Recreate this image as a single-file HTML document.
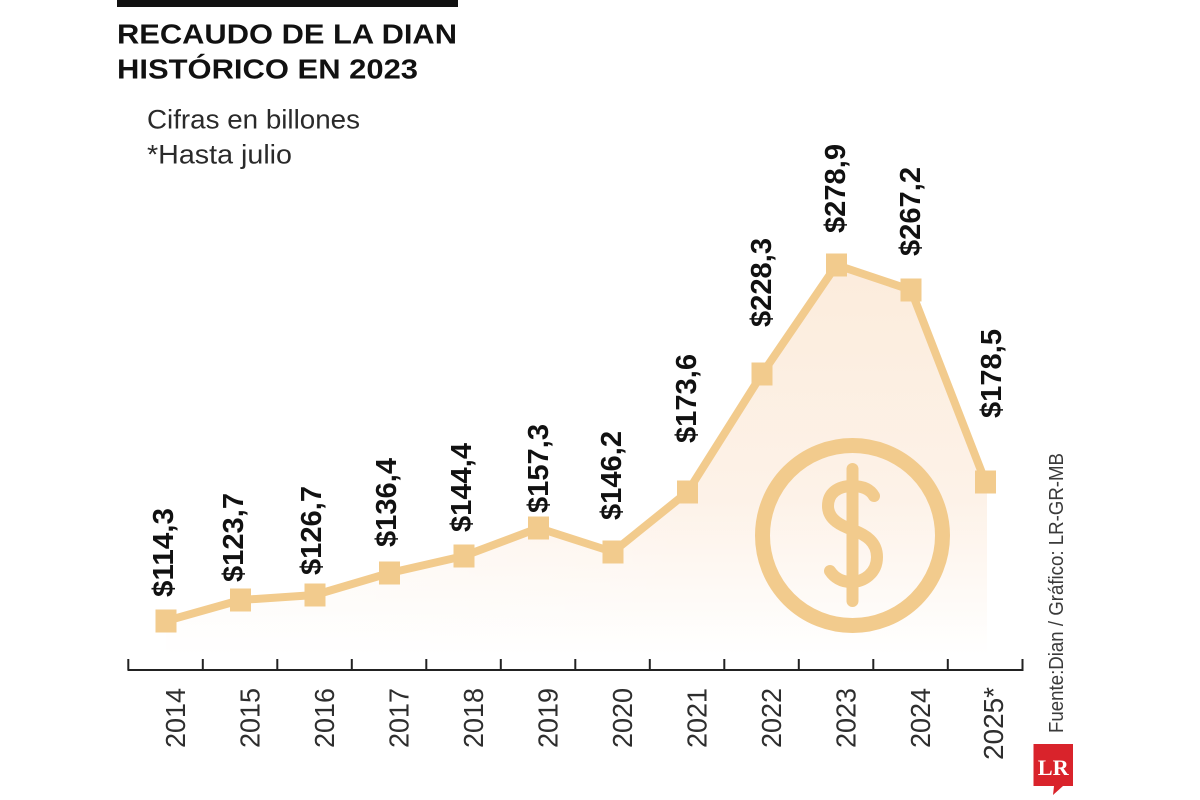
<!DOCTYPE html>
<html>
<head>
<meta charset="utf-8">
<style>
  html,body{margin:0;padding:0;background:#fff;}
  svg{display:block;}
</style>
</head>
<body>
<svg width="1200" height="800" viewBox="0 0 1200 800" xmlns="http://www.w3.org/2000/svg">
  <defs>
    <linearGradient id="fillg" x1="0" y1="265" x2="0" y2="655" gradientUnits="userSpaceOnUse">
      <stop offset="0" stop-color="#FCECDC"/>
      <stop offset="0.6" stop-color="#FDF2E8"/>
      <stop offset="1" stop-color="#FFFFFF"/>
    </linearGradient>
    <linearGradient id="fillh" x1="160" y1="0" x2="700" y2="0" gradientUnits="userSpaceOnUse">
      <stop offset="0" stop-color="#FFFFFF" stop-opacity="0.5"/>
      <stop offset="1" stop-color="#FFFFFF" stop-opacity="0"/>
    </linearGradient>
  </defs>
  <rect width="1200" height="800" fill="#fff"/>

  <!-- Title -->
  <rect x="117" y="0" width="341" height="7" fill="#111"/>
  <text x="117" y="43.5" font-family="Liberation Sans, sans-serif" font-weight="bold" font-size="28" fill="#111" textLength="340" lengthAdjust="spacingAndGlyphs">RECAUDO DE LA DIAN</text>
  <text x="117" y="78.5" font-family="Liberation Sans, sans-serif" font-weight="bold" font-size="28" fill="#111" textLength="301" lengthAdjust="spacingAndGlyphs">HISTÓRICO EN 2023</text>
  <text x="147" y="128.3" font-family="Liberation Sans, sans-serif" font-size="26.5" fill="#2a2a2a" textLength="213" lengthAdjust="spacingAndGlyphs">Cifras en billones</text>
  <text x="147" y="163.3" font-family="Liberation Sans, sans-serif" font-size="26.5" fill="#2a2a2a" textLength="145" lengthAdjust="spacingAndGlyphs">*Hasta julio</text>

  <!-- Area fill -->
  <polygon points="166,621 240.5,600 315,595 389.5,573 464,556 538.5,528 613,552 687.5,492 762,374 836.5,265 911,290 985.5,482 987,482 987,660 166,660" fill="url(#fillg)"/>
  <polygon points="166,621 240.5,600 315,595 389.5,573 464,556 538.5,528 613,552 687.5,492 687.5,660 166,660" fill="url(#fillh)"/>

  <!-- Dollar icon -->
  <circle cx="852.5" cy="535.5" r="90" fill="none" stroke="#F2CB8D" stroke-width="15"/>
  <line x1="852.5" y1="469" x2="852.5" y2="601" stroke="#F2CB8D" stroke-width="12" stroke-linecap="round"/>
  <path d="M 874 496 C 870 489 862 486 852 486 C 838 486 828 493 828 506 C 828 520 842 526 853 530 C 866 535 877 542 877 557 C 877 573 864 582 851 582 C 841 582 834 577 830 571" fill="none" stroke="#F2CB8D" stroke-width="12" stroke-linecap="round"/>

  <!-- Line -->
  <polyline points="166,621 240.5,600 315,595 389.5,573 464,556 538.5,528 613,552 687.5,492 762,374 836.5,265 911,290 985.5,482" fill="none" stroke="#F2CB8D" stroke-width="8" stroke-linejoin="round"/>

  <!-- Markers -->
  <g fill="#F2CB8D">
    <rect x="155.5" y="609.5" width="21" height="23"/>
    <rect x="230" y="588.5" width="21" height="23"/>
    <rect x="304.5" y="583.5" width="21" height="23"/>
    <rect x="379" y="561.5" width="21" height="23"/>
    <rect x="453.5" y="544.5" width="21" height="23"/>
    <rect x="528" y="516.5" width="21" height="23"/>
    <rect x="602.5" y="540.5" width="21" height="23"/>
    <rect x="677" y="480.5" width="21" height="23"/>
    <rect x="751.5" y="362.5" width="21" height="23"/>
    <rect x="826" y="253.5" width="21" height="23"/>
    <rect x="900.5" y="278.5" width="21" height="23"/>
    <rect x="975" y="470.5" width="21" height="23"/>
  </g>

  <!-- Value labels -->
  <g font-family="Liberation Sans, sans-serif" font-weight="bold" font-size="29" fill="#111">
    <text transform="translate(173,597) rotate(-90)" textLength="89" lengthAdjust="spacingAndGlyphs">$114,3</text>
    <text transform="translate(243,582) rotate(-90)" textLength="89" lengthAdjust="spacingAndGlyphs">$123,7</text>
    <text transform="translate(321,575) rotate(-90)" textLength="89" lengthAdjust="spacingAndGlyphs">$126,7</text>
    <text transform="translate(396,547) rotate(-90)" textLength="89" lengthAdjust="spacingAndGlyphs">$136,4</text>
    <text transform="translate(471,532) rotate(-90)" textLength="89" lengthAdjust="spacingAndGlyphs">$144,4</text>
    <text transform="translate(548,513) rotate(-90)" textLength="89" lengthAdjust="spacingAndGlyphs">$157,3</text>
    <text transform="translate(621,520) rotate(-90)" textLength="89" lengthAdjust="spacingAndGlyphs">$146,2</text>
    <text transform="translate(696,443) rotate(-90)" textLength="89" lengthAdjust="spacingAndGlyphs">$173,6</text>
    <text transform="translate(771,327) rotate(-90)" textLength="89" lengthAdjust="spacingAndGlyphs">$228,3</text>
    <text transform="translate(845,233) rotate(-90)" textLength="89" lengthAdjust="spacingAndGlyphs">$278,9</text>
    <text transform="translate(920,256) rotate(-90)" textLength="89" lengthAdjust="spacingAndGlyphs">$267,2</text>
    <text transform="translate(1001,418) rotate(-90)" textLength="89" lengthAdjust="spacingAndGlyphs">$178,5</text>
  </g>

  <!-- Axis -->
  <line x1="127.5" y1="670" x2="1023.5" y2="670" stroke="#222" stroke-width="2"/>
  <g stroke="#222" stroke-width="2">
    <line x1="128.3" y1="659" x2="128.3" y2="670"/>
    <line x1="202.8" y1="659" x2="202.8" y2="670"/>
    <line x1="277.3" y1="659" x2="277.3" y2="670"/>
    <line x1="351.8" y1="659" x2="351.8" y2="670"/>
    <line x1="426.3" y1="659" x2="426.3" y2="670"/>
    <line x1="500.8" y1="659" x2="500.8" y2="670"/>
    <line x1="575.3" y1="659" x2="575.3" y2="670"/>
    <line x1="649.8" y1="659" x2="649.8" y2="670"/>
    <line x1="724.3" y1="659" x2="724.3" y2="670"/>
    <line x1="798.8" y1="659" x2="798.8" y2="670"/>
    <line x1="873.3" y1="659" x2="873.3" y2="670"/>
    <line x1="947.8" y1="659" x2="947.8" y2="670"/>
    <line x1="1022.5" y1="659" x2="1022.5" y2="670"/>
  </g>

  <!-- Year labels -->
  <g font-family="Liberation Sans, sans-serif" font-size="28" fill="#2e2e2e" text-anchor="end">
    <text transform="translate(185,688) rotate(-90)" textLength="60" lengthAdjust="spacingAndGlyphs">2014</text>
    <text transform="translate(259.5,688) rotate(-90)" textLength="60" lengthAdjust="spacingAndGlyphs">2015</text>
    <text transform="translate(334,688) rotate(-90)" textLength="60" lengthAdjust="spacingAndGlyphs">2016</text>
    <text transform="translate(408.5,688) rotate(-90)" textLength="60" lengthAdjust="spacingAndGlyphs">2017</text>
    <text transform="translate(483,688) rotate(-90)" textLength="60" lengthAdjust="spacingAndGlyphs">2018</text>
    <text transform="translate(557.5,688) rotate(-90)" textLength="60" lengthAdjust="spacingAndGlyphs">2019</text>
    <text transform="translate(632,688) rotate(-90)" textLength="60" lengthAdjust="spacingAndGlyphs">2020</text>
    <text transform="translate(706.5,688) rotate(-90)" textLength="60" lengthAdjust="spacingAndGlyphs">2021</text>
    <text transform="translate(781,688) rotate(-90)" textLength="60" lengthAdjust="spacingAndGlyphs">2022</text>
    <text transform="translate(855.5,688) rotate(-90)" textLength="60" lengthAdjust="spacingAndGlyphs">2023</text>
    <text transform="translate(930,688) rotate(-90)" textLength="60" lengthAdjust="spacingAndGlyphs">2024</text>
    <text transform="translate(1003,687) rotate(-90)" textLength="73" lengthAdjust="spacingAndGlyphs">2025*</text>
  </g>

  <!-- Source -->
  <text transform="translate(1063,733) rotate(-90)" font-family="Liberation Sans, sans-serif" font-size="20.5" fill="#3a3a3a" textLength="280" lengthAdjust="spacingAndGlyphs">Fuente:Dian / Gráfico: LR-GR-MB</text>

  <!-- LR logo -->
  <path d="M1033.5,744 H1073 V786 H1063 L1053,795 L1054,786 H1033.5 Z" fill="#D9232B"/>
  <text x="1053.3" y="775" text-anchor="middle" font-family="Liberation Serif, serif" font-weight="bold" font-size="22" fill="#fff" textLength="31" lengthAdjust="spacingAndGlyphs">LR</text>
</svg>
</body>
</html>
